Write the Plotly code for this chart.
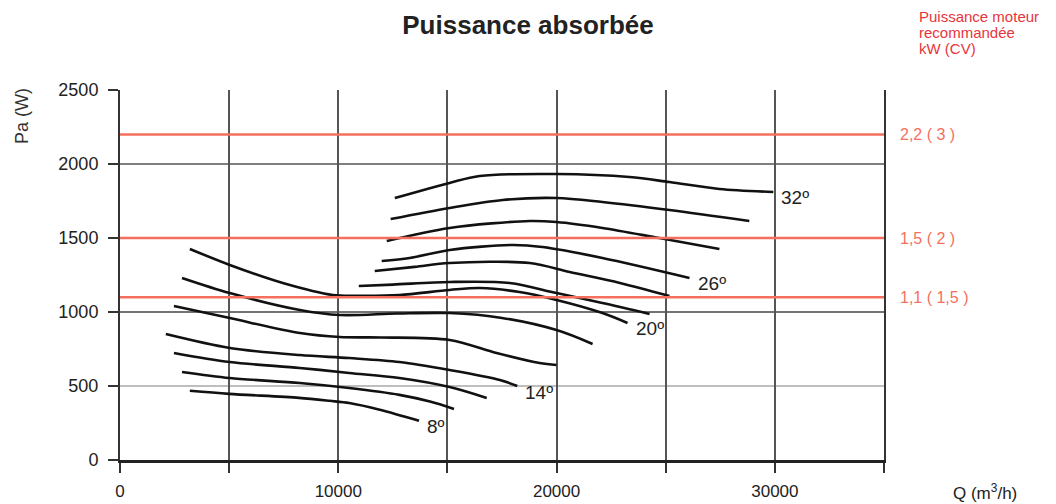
import plotly.graph_objects as go

# Absorbed power curves: flow Q (m3/h) and power Pa (W), one pair per blade angle
q_08 = [3200, 5000, 8200, 9600, 10500, 11900, 13700]
pa_08 = [468, 447, 420, 400, 385, 340, 265]

q_10 = [2840, 5030, 8240, 10500, 12800, 14200, 15300]
pa_10 = [595, 554, 520, 486, 440, 395, 345]

q_12 = [2470, 5030, 8240, 10500, 12800, 15100, 16800]
pa_12 = [723, 662, 622, 588, 554, 493, 419]

q_14 = [2100, 5030, 8240, 10500, 12800, 15100, 17400, 18200]
pa_14 = [851, 757, 709, 689, 662, 608, 541, 500]

q_16 = [2470, 5030, 8240, 10070, 12000, 15100, 17250, 19220, 20000]
pa_16 = [1041, 959, 858, 831, 828, 811, 723, 655, 642]

q_18 = [2840, 5030, 8240, 10070, 12700, 15100, 17500, 20000, 21650]
pa_18 = [1230, 1128, 1014, 980, 990, 993, 960, 878, 784]

q_20 = [3200, 5030, 7460, 9750, 11000, 12800, 15100, 16500, 18300, 20000, 22100, 23250]
pa_20 = [1426, 1318, 1196, 1115, 1110, 1115, 1149, 1162, 1135, 1081, 993, 926]

q_22 = [10940, 12500, 15100, 17850, 20000, 22100, 24260]
pa_22 = [1176, 1185, 1203, 1196, 1128, 1061, 987]

q_24 = [11670, 13500, 15100, 18770, 20600, 22900, 25170]
pa_24 = [1277, 1305, 1331, 1331, 1270, 1196, 1108]

q_26 = [11990, 13270, 15100, 18000, 19360, 22100, 26090]
pa_26 = [1345, 1365, 1419, 1453, 1439, 1365, 1230]

q_28 = [12220, 15100, 18770, 20000, 22100, 24700, 27460]
pa_28 = [1480, 1568, 1615, 1608, 1568, 1500, 1426]

q_30 = [12400, 15100, 17530, 20000, 22100, 25170, 28830]
pa_30 = [1628, 1703, 1757, 1770, 1743, 1689, 1615]

q_32 = [12590, 15100, 16480, 20000, 23340, 25170, 27460, 29930]
pa_32 = [1770, 1872, 1919, 1932, 1912, 1878, 1831, 1811]

curves = [
    ("8º", q_08, pa_08, True), ("10º", q_10, pa_10, False), ("12º", q_12, pa_12, False),
    ("14º", q_14, pa_14, True), ("16º", q_16, pa_16, False), ("18º", q_18, pa_18, False),
    ("20º", q_20, pa_20, True), ("22º", q_22, pa_22, False), ("24º", q_24, pa_24, False),
    ("26º", q_26, pa_26, True), ("28º", q_28, pa_28, False), ("30º", q_30, pa_30, False),
    ("32º", q_32, pa_32, True),
]

# Recommended motor power lines
motor_pa = [1100, 1500, 2200]
motor_labels = ["1,1 ( 1,5 )", "1,5 ( 2 )", "2,2 ( 3 )"]

x_ticks = [0, 5000, 10000, 15000, 20000, 25000, 30000, 35000]
x_ticktext = ["0", "", "10000", "", "20000", "", "30000", ""]
y_ticks = [0, 500, 1000, 1500, 2000, 2500]

FONT = "Liberation Sans, Arial, sans-serif"
RED = "#f4705e"

fig = go.Figure()

# horizontal grid lines (drawn under everything)
for val, col in [(500, "#a8a8a8"), (1000, "#444444"), (2000, "#555555")]:
    fig.add_shape(type="line", xref="x domain", yref="y", x0=0, x1=1, y0=val, y1=val,
                  line=dict(color=col, width=1.5), layer="below")

for val in motor_pa:
    fig.add_shape(type="line", xref="x domain", yref="y", x0=0, x1=1, y0=val, y1=val,
                  line=dict(color=RED, width=2.5), layer="above")

for name, q, pa, labeled in curves:
    fig.add_trace(go.Scatter(x=q, y=pa, mode="lines", name=name,
                             line=dict(color="#111111", width=2.6, shape="spline", smoothing=0.9),
                             hoverinfo="skip"))
    if labeled:
        fig.add_annotation(x=q[-1], y=pa[-1], text=name, showarrow=False,
                           xanchor="left", yanchor="middle", xshift=6, yshift=-6,
                           font=dict(family=FONT, size=19, color="#222222"))

for val, lab in zip(motor_pa, motor_labels):
    fig.add_annotation(xref="paper", x=1, y=val, text=lab, showarrow=False,
                       xanchor="left", yanchor="middle", xshift=14,
                       font=dict(family=FONT, size=16, color=RED))

# header on the right
for i, line in enumerate(["Puissance moteur", "recommandée", "kW (CV)"]):
    fig.add_annotation(xref="paper", yref="paper", x=1, y=1, text=line, showarrow=False,
                       xanchor="left", yanchor="middle", xshift=33, yshift=74 - 16 * i,
                       font=dict(family=FONT, size=15, color="#e8343c"))

# axis titles
fig.add_annotation(xref="paper", yref="paper", x=0, y=1, text="Pa (W)", showarrow=False,
                   textangle=-90, xanchor="center", yanchor="middle", xshift=-98, yshift=-26,
                   font=dict(family=FONT, size=18, color="#333333"))
fig.add_annotation(xref="paper", yref="paper", x=1, y=0, text="Q (m<sup>3</sup>/h)", showarrow=False,
                   xanchor="center", yanchor="middle", xshift=101, yshift=-32,
                   font=dict(family=FONT, size=17, color="#222222"))

fig.update_layout(
    width=1056, height=504,
    margin=dict(l=120, r=172, t=90, b=44, autoexpand=False),
    plot_bgcolor="white", paper_bgcolor="white",
    showlegend=False,
    title=dict(text="<b>Puissance absorbée</b>", x=0.5, xref="container", xanchor="center",
               y=1 - 25 / 504, yref="container", yanchor="middle",
               font=dict(family=FONT, size=26, color="#222222")),
    xaxis=dict(range=[0, 35000], tickvals=x_ticks, ticktext=x_ticktext,
               ticks="outside", ticklen=10, tickwidth=1.5, tickcolor="#333333",
               showline=True, linecolor="#222222", linewidth=2.5,
               showgrid=True, gridcolor="#555555", gridwidth=1.5, zeroline=False,
               ticklabelstandoff=4, automargin=False,
               tickfont=dict(family=FONT, size=17, color="#222222")),
    yaxis=dict(range=[0, 2500], tickvals=y_ticks,
               ticks="outside", ticklen=10, tickwidth=1.5, tickcolor="#333333",
               showline=True, linecolor="#333333", linewidth=2, mirror=True,
               showgrid=False, zeroline=False, automargin=False,
               ticklabelstandoff=6,
               tickfont=dict(family=FONT, size=18, color="#222222")),
)

fig.write_html("out.html", config={"displayModeBar": False},
               post_script="document.body.style.margin='0';")
